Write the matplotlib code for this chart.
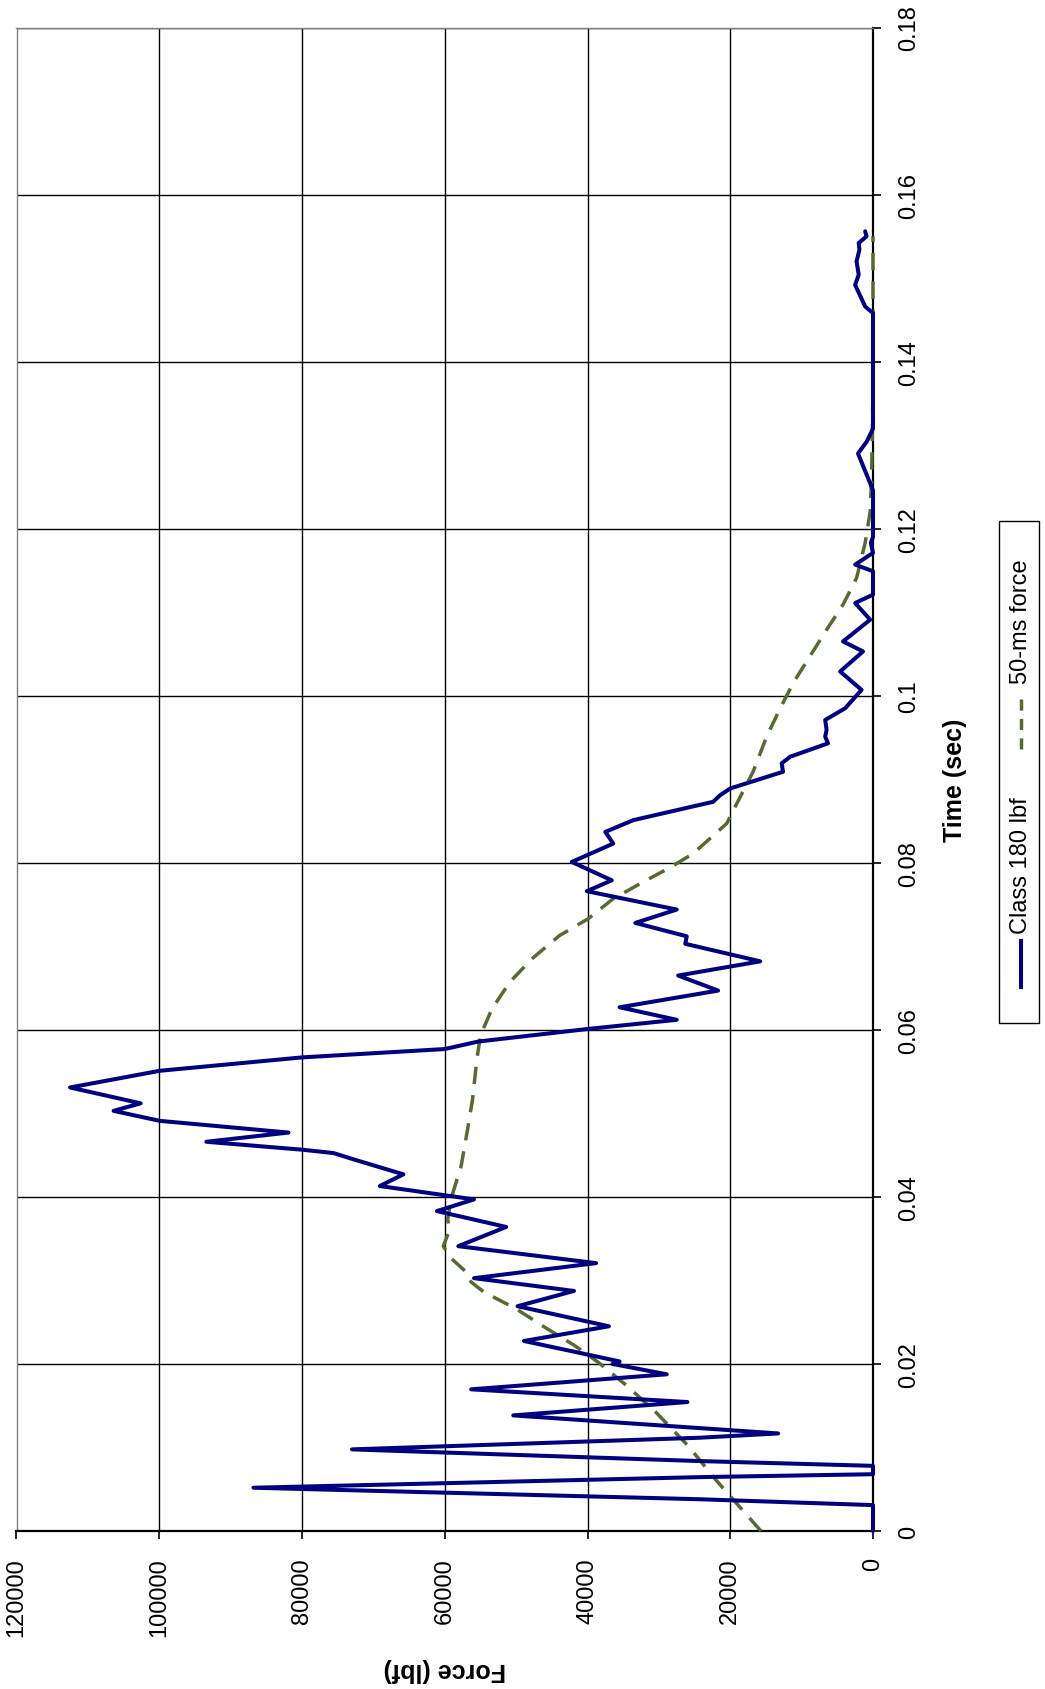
"""Force-time trace of the Class 180 lbf test, drawn in the rotated page layout."""

import matplotlib

matplotlib.use("Agg")
import matplotlib.pyplot as plt
from matplotlib.lines import Line2D
from matplotlib.patches import Rectangle

# measured trace (time in s, force in lbf)
class_time = [
    0.0000, 0.0031, 0.0038, 0.00518, 0.00645, 0.0068, 0.0078, 0.00837, 0.00977, 0.01117,
    0.01168, 0.01384, 0.01544, 0.01696, 0.01876, 0.0200, 0.0203, 0.02275, 0.02451, 0.02691,
    0.02874, 0.03027, 0.03207, 0.0341, 0.0364, 0.0383, 0.0397, 0.0413, 0.0427, 0.0445,
    0.04525, 0.04565, 0.0466, 0.0477, 0.0491, 0.0503, 0.0512, 0.0531, 0.0551, 0.0567,
    0.0577, 0.0586, 0.0601, 0.0612, 0.0627, 0.0647, 0.0665, 0.0682, 0.0703, 0.0712,
    0.0728, 0.0744, 0.0766, 0.0779, 0.0801, 0.0823, 0.0837, 0.0851, 0.0873, 0.0881,
    0.0889, 0.0909, 0.0919, 0.0927, 0.0943, 0.0951, 0.0959, 0.0971, 0.0985, 0.1007,
    0.1029, 0.1053, 0.1065, 0.1091, 0.1111, 0.1121, 0.1149, 0.1157, 0.1171, 0.1183,
    0.1190, 0.1246, 0.1290, 0.1304, 0.1316, 0.1320, 0.1458, 0.1466, 0.1488, 0.1492,
    0.1504, 0.1520, 0.1534, 0.1542, 0.1550, 0.1556,
]
class_force = [
    0, 0, 24200, 86800, 24200, 0, 0, 24200, 73000, 24200,
    13300, 50400, 26000, 56300, 28900, 36500, 35500, 48900, 37000, 49800,
    41900, 55900, 38800, 58100, 51400, 61100, 55900, 69100, 65800, 72800,
    75600, 80000, 93400, 81900, 99900, 106400, 102600, 112500, 99900, 80000,
    60000, 55300, 40000, 27500, 35500, 21700, 27300, 15800, 26300, 26100,
    33300, 27500, 40100, 36600, 42200, 36400, 37500, 33600, 22400, 21400,
    20000, 12600, 12800, 11600, 6300, 6700, 6500, 6700, 3900, 1600,
    4600, 1400, 4200, 400, 2500, 0, 0, 2500, 0, 300,
    0, 0, 2100, 900, 200, 0, 0, 1100, 2300, 2500,
    2000, 2300, 1900, 2000, 900, 1100,
]

# 50-ms average force
avg_time = [
    0.0000, 0.0062, 0.0102, 0.0142, 0.0174, 0.0202, 0.0222, 0.0244, 0.0266, 0.0286,
    0.0298, 0.0310, 0.0328, 0.0341, 0.0361, 0.0373, 0.0401, 0.0437, 0.0481, 0.0517,
    0.0565, 0.0593, 0.0625, 0.0657, 0.0685, 0.0713, 0.0733, 0.0757, 0.0777, 0.0795,
    0.0811, 0.0847, 0.0879, 0.0909, 0.0951, 0.0985, 0.1015, 0.1045, 0.1079, 0.1109,
    0.1141, 0.1183, 0.1220, 0.1260, 0.1370, 0.1550,
]
avg_force = [
    15700, 22100, 25900, 30400, 34500, 38500, 41800, 46000, 50000, 54500,
    56300, 57000, 59300, 60200, 59300, 59600, 59000, 57700, 56800, 56100,
    55500, 55000, 53400, 50900, 47800, 43900, 39900, 36400, 32200, 28300,
    25200, 20500, 18600, 16800, 14900, 13000, 11200, 9000, 6500, 4200,
    2300, 1100, 400, 200, 0, 0,
]

force_ticks = [0, 20000, 40000, 60000, 80000, 100000, 120000]
time_ticks = [0, 0.02, 0.04, 0.06, 0.08, 0.10, 0.12, 0.14, 0.16, 0.18]
time_labels = ["0", "0.02", "0.04", "0.06", "0.08", "0.1", "0.12", "0.14", "0.16", "0.18"]

BLUE = "#000080"
GREEN = "#556B2F"
DASH = (0, (5, 3.2))

plt.rcParams["font.family"] = ["Liberation Sans", "DejaVu Sans"]

W, H = 1045, 1690
fig = plt.figure(figsize=(W / 100, H / 100), dpi=100)
ax = fig.add_axes([16.5 / W, 1 - 1532 / H, (873 - 16.5) / W, (1532 - 28.5) / H])

ax.plot(avg_force, avg_time, color=GREEN, lw=2.5, ls=DASH, zorder=3, clip_on=False)
ax.plot(class_force, class_time, color=BLUE, lw=2.9, solid_joinstyle="round",
        solid_capstyle="round", zorder=4, clip_on=False)

ax.set_xlim(120000, 0)
ax.set_ylim(0, 0.18)
ax.set_xticks(force_ticks)
ax.set_xticklabels([str(v) for v in force_ticks], rotation=90)
ax.yaxis.tick_right()
ax.set_yticks(time_ticks)
ax.set_yticklabels(time_labels, rotation=90, va="center")
ax.tick_params(axis="both", direction="out", length=5.8, width=1.2, labelsize=17, color="black")
ax.tick_params(axis="x", pad=13)
ax.tick_params(axis="y", pad=12.5)

ax.grid(True, color="black", lw=1.0)
ax.set_axisbelow(True)
for side in ("left", "top"):
    ax.spines[side].set_color("#808080")
    ax.spines[side].set_linewidth(1.0)
for side in ("bottom", "right"):
    ax.spines[side].set_color("black")
    ax.spines[side].set_linewidth(1.6)

fig.text(445 / W, 1 - 1670 / H, "Force (lbf)", rotation=180, fontsize=18,
         fontweight="bold", ha="center", va="center")
fig.text(955 / W, 1 - 780 / H, "Time (sec)", rotation=90, fontsize=18,
         fontweight="bold", ha="center", va="center")

# legend, laid out sideways like the rest of the page
lx = 1021 / W
fig.add_artist(Rectangle((999 / W, 1 - 1024 / H), 40 / W, (1024 - 522) / H,
                         transform=fig.transFigure, fill=False, ec="black", lw=1.0))
fig.add_artist(Line2D([lx, lx], [1 - 988 / H, 1 - 942 / H], transform=fig.transFigure,
                      color=BLUE, lw=2.9))
fig.text(lx, 1 - 934 / H, "Class 180 lbf", rotation=90, fontsize=17, ha="center", va="bottom")
fig.add_artist(Line2D([lx, lx], [1 - 750 / H, 1 - 696 / H], transform=fig.transFigure,
                      color=GREEN, lw=2.5, ls=(0, (3.2, 2.4))))
fig.text(lx, 1 - 684 / H, "50-ms force", rotation=90, fontsize=17, ha="center", va="bottom")

fig.savefig("out.png", dpi=100)
